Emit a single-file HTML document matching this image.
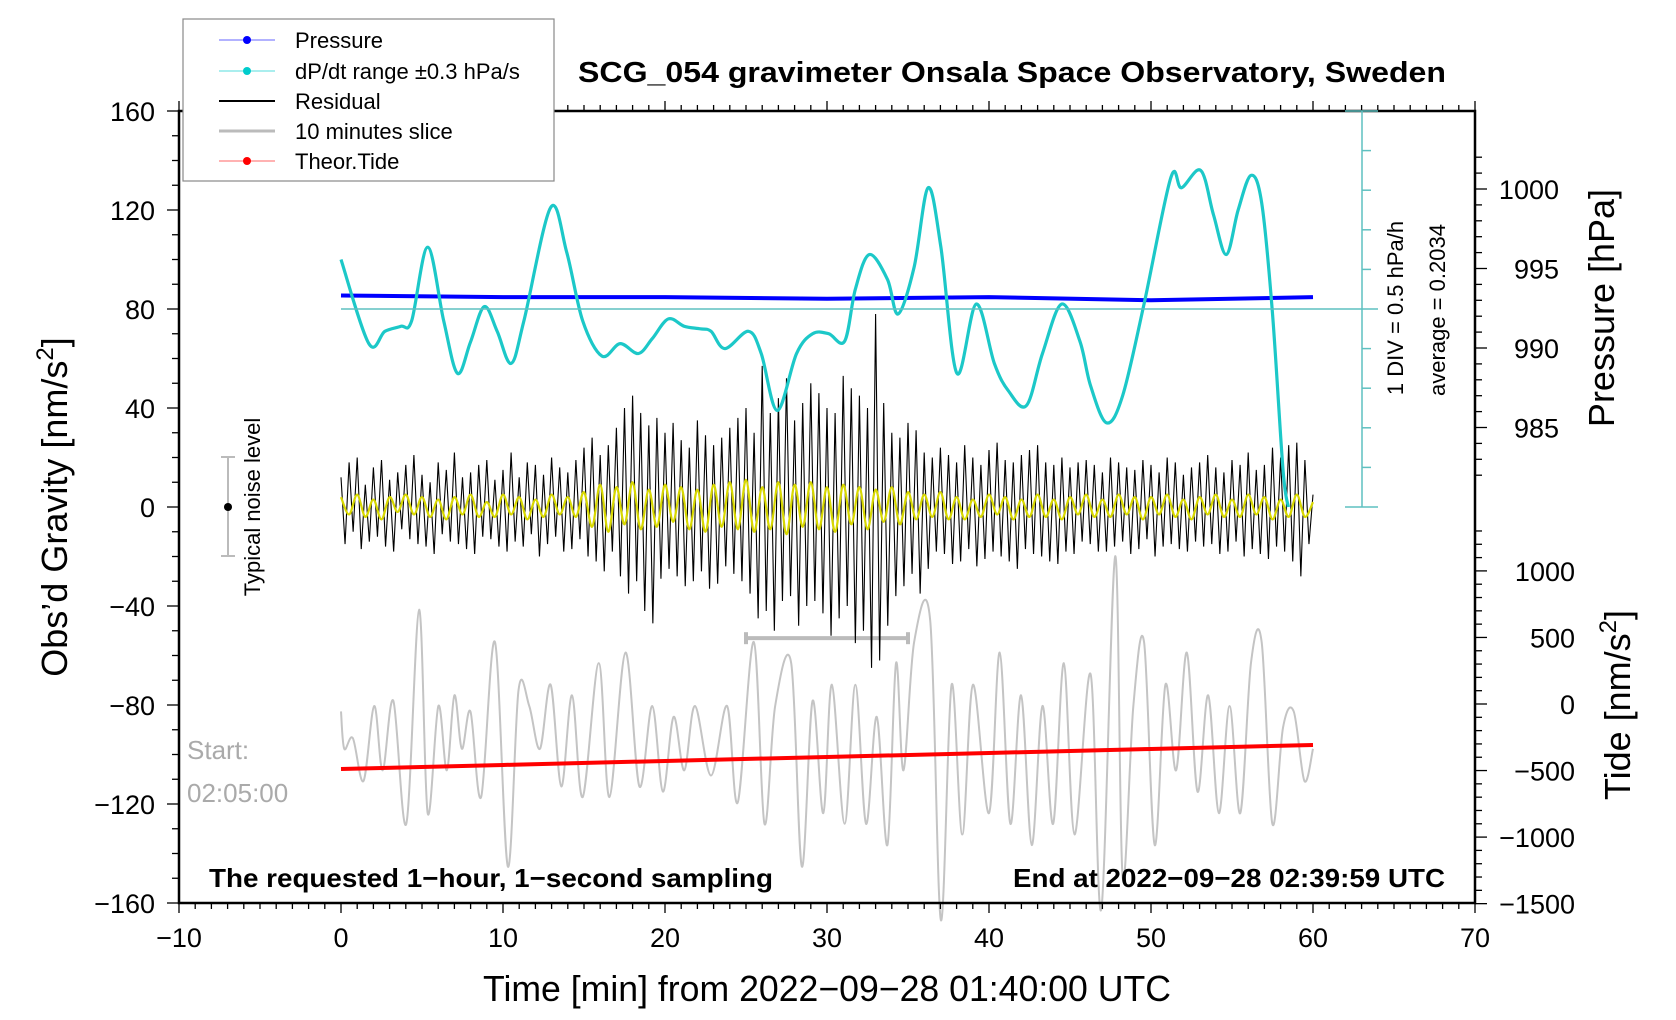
<!DOCTYPE html>
<html><head><meta charset="utf-8">
<style>
html,body{margin:0;padding:0;background:#fff;}
svg{display:block;font-family:"Liberation Sans",Arial,sans-serif;}
</style></head>
<body>
<svg id="chart" width="1676" height="1020" viewBox="0 0 1676 1020" xmlns="http://www.w3.org/2000/svg">
<rect x="0" y="0" width="1676" height="1020" fill="#fff"/>
<g id="plot"></g>
<g id="axes"></g>

<text x="1012" y="82" text-anchor="middle" font-size="29" font-weight="bold" textLength="868" lengthAdjust="spacingAndGlyphs">SCG_054 gravimeter Onsala Space Observatory, Sweden</text>
<text x="827" y="1001" text-anchor="middle" font-size="36" textLength="688" lengthAdjust="spacingAndGlyphs">Time [min] from 2022−09−28 01:40:00 UTC</text>
<text transform="translate(67,507) rotate(-90)" text-anchor="middle" font-size="36">Obs’d Gravity [nm/s<tspan font-size="24" dy="-14">2</tspan><tspan dy="14">]</tspan></text>
<text transform="translate(1614,308) rotate(-90)" text-anchor="middle" font-size="36">Pressure [hPa]</text>
<text transform="translate(1630,705) rotate(-90)" text-anchor="middle" font-size="36">Tide [nm/s<tspan font-size="24" dy="-14">2</tspan><tspan dy="14">]</tspan></text>

<text x="209" y="887" font-size="26" font-weight="bold" textLength="564" lengthAdjust="spacingAndGlyphs">The requested 1−hour, 1−second sampling</text>
<text x="1445" y="887" text-anchor="end" font-size="26" font-weight="bold" textLength="432" lengthAdjust="spacingAndGlyphs">End at 2022−09−28 02:39:59 UTC</text>
<text x="187" y="759" font-size="26" fill="#aaa">Start:</text>
<text x="187" y="802" font-size="26" fill="#aaa">02:05:00</text>

<g>
<line x1="228" y1="457" x2="228" y2="556" stroke="#bbb" stroke-width="2"/>
<line x1="221" y1="457" x2="235" y2="457" stroke="#bbb" stroke-width="2"/>
<line x1="221" y1="556" x2="235" y2="556" stroke="#bbb" stroke-width="2"/>
<circle cx="228" cy="507" r="4" fill="#000"/>
<text transform="translate(260,507) rotate(-90)" text-anchor="middle" font-size="22">Typical noise level</text>
</g>

<g stroke="#5fc0c0" stroke-width="1.5">
<line x1="1362" y1="111" x2="1362" y2="507"/>
<line x1="1345" y1="111" x2="1378" y2="111"/>
<line x1="1345" y1="507" x2="1378" y2="507"/>
<line x1="341" y1="309" x2="1378" y2="309"/>
</g>
<g id="divticks"></g>
<text transform="translate(1403,308) rotate(-90)" text-anchor="middle" font-size="22">1 DIV = 0.5 hPa/h</text>
<text transform="translate(1445,310) rotate(-90)" text-anchor="middle" font-size="22">average = 0.2034</text>

<g>
<rect x="183" y="19" width="371" height="162" fill="#fff" stroke="#888" stroke-width="1.2"/>
<g><line x1="219" y1="40" x2="275" y2="40" stroke="#66f" stroke-width="1"/><circle cx="247" cy="40" r="4" fill="#00f"/><text x="295" y="48" font-size="22">Pressure</text></g>
<g><line x1="219" y1="71" x2="275" y2="71" stroke="#5dd" stroke-width="1"/><circle cx="247" cy="71" r="4" fill="#0cc"/><text x="295" y="79" font-size="22">dP/dt range ±0.3 hPa/s</text></g>
<g><line x1="219" y1="101" x2="275" y2="101" stroke="#000" stroke-width="2"/><text x="295" y="109" font-size="22">Residual</text></g>
<g><line x1="219" y1="131" x2="275" y2="131" stroke="#bbb" stroke-width="3"/><text x="295" y="139" font-size="22">10 minutes slice</text></g>
<g><line x1="219" y1="161" x2="275" y2="161" stroke="#f66" stroke-width="1"/><circle cx="247" cy="161" r="4" fill="#f00"/><text x="295" y="169" font-size="22">Theor.Tide</text></g>
</g>
</svg>
<script>
// ---- data ----
const xTicks = [-10,0,10,20,30,40,50,60,70];
const yTicks = [160,120,80,40,0,-40,-80,-120,-160];
const pTicks = [1000,995,990,985];
const tideTicks = [1000,500,0,-500,-1000,-1500];

const pressureMin = [0,10,20,30,40,50,60];
const pressureVal = [993.3,993.2,993.2,993.1,993.2,993.0,993.2];

const tideMin = [0,10,20,30,40,50,60];
const tideVal = [-488,-458,-428,-398,-368,-338,-308];

const dpdtMin = [0,1.72,2.71,3.70,4.36,5.35,6.34,7.19,7.99,8.84,9.64,10.5,11.29,12.94,13.93,14.92,16.11,17.23,18.35,19.21,20.2,21.19,22.18,22.84,23.7,25.15,25.94,26.93,28.12,29.11,30.1,31.09,31.75,32.61,33.73,34.39,35.38,36.24,37.03,38.02,39.21,40.33,41.19,42.31,43.3,44.49,45.61,46.27,47.26,48.25,49.57,51.22,51.88,53.07,53.86,54.65,55.38,56.17,56.83,57.49,58.15,58.48];
const dpdtVal = [0.828,-0.234,-0.078,-0.015,0.053,0.984,0.053,-0.609,-0.216,0.234,-0.078,-0.484,0.053,1.484,0.922,0.053,-0.391,-0.234,-0.359,-0.172,0.078,-0.015,-0.047,-0.078,-0.297,-0.078,-0.359,-1.078,-0.359,-0.109,-0.109,-0.203,0.453,0.891,0.578,0.141,0.734,1.734,0.984,-0.609,0.266,-0.484,-0.828,-1.016,-0.359,0.266,-0.203,-0.766,-1.234,-0.891,0.266,1.859,1.734,1.953,1.391,0.891,1.453,1.891,1.547,0.172,-1.828,-2.297];
const dpdtAvg = 0.2034;

const residualStep = 0.25;
const residualVal = [12,-15,18,-10,20,-17,9,-14,16,-12,19,-16,11,-18,14,-9,17,-13,21,-15,13,-16,10,-19,18,-11,15,-14,22,-15,12,-17,14,-19,17,-12,19,-13,11,-16,15,-18,22,-14,12,-16,18,-11,17,-20,13,-15,20,-12,16,-18,14,-17,19,-13,24,-20,28,-22,21,-26,25,-18,32,-28,40,-35,45,-30,38,-42,33,-47,36,-29,30,-25,34,-28,27,-32,24,-30,35,-26,29,-33,25,-31,28,-24,32,-27,36,-30,40,-35,30,-45,57,-42,38,-50,44,-38,52,-36,35,-48,42,-40,50,-38,46,-43,40,-52,38,-45,53,-40,48,-55,45,-50,40,-65,78,-62,42,-48,30,-36,28,-32,34,-27,31,-35,22,-25,20,-18,24,-19,21,-23,18,-22,25,-17,20,-24,17,-21,23,-18,26,-20,19,-22,18,-25,21,-17,23,-19,25,-20,18,-22,17,-23,20,-18,16,-19,18,-14,19,-15,17,-18,14,-18,20,-16,18,-14,16,-19,15,-17,19,-13,17,-20,14,-16,20,-15,18,-17,13,-18,16,-14,18,-16,21,-15,16,-19,14,-18,19,-14,17,-20,22,-17,15,-19,17,-21,24,-16,20,-18,25,-22,26,-28,19,-15,5];

const filteredStep = 0.5;
const filteredVal = [4,-3,5,-4,3,-5,4,-2,5,-3,4,-4,3,-5,4,-3,5,-4,2,-4,5,-3,4,-5,3,-4,5,-3,4,-4,6,-8,9,-10,8,-7,10,-9,7,-8,9,-6,8,-9,7,-10,9,-8,10,-9,11,-10,8,-9,10,-11,9,-8,10,-9,8,-10,9,-7,8,-9,7,-6,8,-7,6,-5,5,-4,6,-5,4,-5,3,-4,5,-3,4,-5,3,-4,5,-4,3,-5,4,-3,5,-4,3,-4,5,-3,4,-5,4,-3,5,-4,3,-5,4,-3,5,-4,3,-4,5,-3,4,-5,3,-4,5,-4,2];

const sliceMin = [0,0.2,0.73,1.39,2.05,2.57,3.23,4.03,4.82,5.35,6.01,6.53,7.0,7.46,7.99,8.65,9.5,10.3,10.96,11.62,12.28,12.94,13.6,14.26,14.92,15.91,16.57,17.56,18.42,19.21,19.87,20.53,21.19,21.85,22.84,23.83,24.49,25.48,26.14,26.8,27.79,28.45,29.11,29.77,30.3,31.09,31.75,32.41,33.07,33.73,34.26,34.72,35.38,36.37,37.03,37.69,38.35,39.01,40.0,40.66,41.32,41.98,42.64,43.3,43.96,44.62,45.28,46.27,46.93,47.79,48.25,48.91,49.57,50.23,50.89,51.55,52.21,52.87,53.53,54.19,54.85,55.51,56.17,56.83,57.49,58.15,58.81,59.47,60];
const sliceVal = [-82.6,-97.7,-93.4,-110.7,-80.4,-106.4,-78.3,-128,-41.5,-123.7,-80.4,-106.4,-76.1,-97.7,-82.6,-117.2,-54.5,-145.3,-73.9,-80.4,-97.7,-71.8,-112.9,-76.1,-117.2,-63.1,-117.2,-58.8,-112.9,-80.4,-115,-84.8,-106.4,-80.4,-108.5,-80.4,-119.4,-54.5,-128,-80.4,-63.1,-145.3,-78.3,-123.7,-71.8,-128,-71.8,-128,-84.8,-136.6,-63.1,-106.4,-54.5,-45.8,-166.9,-71.8,-132.3,-71.8,-123.7,-58.8,-128,-76.1,-136.6,-80.4,-128,-63.1,-132.3,-67.5,-162.6,-19.9,-149.6,-80.4,-54.5,-136.6,-71.8,-106.4,-58.8,-115,-76.1,-123.7,-80.4,-123.7,-63.1,-54.5,-128,-89.1,-82.6,-110.7,-97.7];

const sliceBracket = [25,35];
const sliceBracketLevel = -53;

// ---- scales ----
const X0=179, X1=1475, Y0=111, Y1=903;
const xs = m => X0 + (m+10)/80*(X1-X0);
const ys = g => Y0 + (160-g)/320*(Y1-Y0);
const ps = p => 189 + (1000-p)*15.9;
const ts = t => 704 - t*0.1331;
const ds = v => 309 - (v-dpdtAvg)/0.5*39.6;

const NS="http://www.w3.org/2000/svg";
function mk(tag, attrs, parent){const el=document.createElementNS(NS,tag);for(const k in attrs)el.setAttribute(k,attrs[k]);parent.appendChild(el);return el;}
const plot=document.getElementById('plot');
const axes=document.getElementById('axes');

function smoothPath(pts){
  let d="M"+pts[0][0]+","+pts[0][1];
  for(let i=0;i<pts.length-1;i++){
    const p0=pts[Math.max(0,i-1)],p1=pts[i],p2=pts[i+1],p3=pts[Math.min(pts.length-1,i+2)];
    const c1=[p1[0]+(p2[0]-p0[0])/6,p1[1]+(p2[1]-p0[1])/6];
    const c2=[p2[0]-(p3[0]-p1[0])/6,p2[1]-(p3[1]-p1[1])/6];
    d+=" C"+c1[0]+","+c1[1]+" "+c2[0]+","+c2[1]+" "+p2[0]+","+p2[1];
  }
  return d;
}

let e;
// slice (gray)
const sp=sliceMin.map((m,i)=>[xs(m),ys(sliceVal[i])]);
e=mk('path',{d:smoothPath(sp),fill:'none',stroke:'#c4c4c4','stroke-width':2},plot);



// slice bracket
const bg=mk('g',{stroke:'#bbb','stroke-width':4},plot);


mk('line',{x1:xs(sliceBracket[0]),y1:ys(sliceBracketLevel),x2:xs(sliceBracket[1]),y2:ys(sliceBracketLevel)},bg);
mk('line',{x1:xs(sliceBracket[0]),y1:ys(sliceBracketLevel)-6,x2:xs(sliceBracket[0]),y2:ys(sliceBracketLevel)+6},bg);
mk('line',{x1:xs(sliceBracket[1]),y1:ys(sliceBracketLevel)-6,x2:xs(sliceBracket[1]),y2:ys(sliceBracketLevel)+6},bg);

// tide
const tp=tideMin.map((m,i)=>xs(m)+","+ts(tideVal[i])).join(' ');
e=mk('polyline',{points:tp,fill:'none',stroke:'#f00','stroke-width':4},plot);



// residual
const rp=residualVal.map((v,i)=>xs(i*residualStep)+","+ys(v)).join(' ');
e=mk('polyline',{points:rp,fill:'none',stroke:'#000','stroke-width':1.1},plot);



// filtered yellow
const fp=filteredVal.map((v,i)=>[xs(i*filteredStep),ys(v)]);
e=mk('path',{d:smoothPath(fp),fill:'none',stroke:'#d8d800','stroke-width':2.2},plot);



// pressure
const pp=pressureMin.map((m,i)=>xs(m)+","+ps(pressureVal[i])).join(' ');
e=mk('polyline',{points:pp,fill:'none',stroke:'#00f','stroke-width':4},plot);



// dP/dt
const dp=dpdtMin.map((m,i)=>[xs(m),ds(dpdtVal[i])]);
e=mk('path',{d:smoothPath(dp),fill:'none',stroke:'#1cc8c8','stroke-width':3.2},plot);



// frame
e=mk('rect',{x:X0,y:Y0,width:X1-X0,height:Y1-Y0,fill:'none',stroke:'#000','stroke-width':2.5},axes);



// x ticks (bottom & top)
for(let m=-10;m<=70;m++){
  const major=(m%10===0);
  const L=major?10:6;
  mk('line',{x1:xs(m),y1:Y1,x2:xs(m),y2:Y1+L,stroke:'#000','stroke-width':1.3},axes);
  mk('line',{x1:xs(m),y1:Y0,x2:xs(m),y2:Y0-L,stroke:'#000','stroke-width':1.3},axes);
}
xTicks.forEach(t=>{
  const tx=mk('text',{x:xs(t),y:947,'text-anchor':'middle','font-size':27},axes);
  tx.textContent=String(t).replace('-','−');
  
  
});
// y ticks left
for(let g=-160;g<=160;g+=10){
  const major=(g%40===0);
  mk('line',{x1:X0,y1:ys(g),x2:X0-(major?12:7),y2:ys(g),stroke:'#000','stroke-width':1.3},axes);
}
yTicks.forEach(t=>{
  const tx=mk('text',{x:155,y:ys(t)+10,'text-anchor':'end','font-size':27},axes);
  tx.textContent=String(t).replace('-','−');
  
  
});
// pressure axis ticks (right)
for(let p=1002;p>=982;p--){
  const major=(p%5===0);
  mk('line',{x1:X1,y1:ps(p),x2:X1+(major?12:7),y2:ps(p),stroke:'#000','stroke-width':1.3},axes);
}
pTicks.forEach(t=>{
  const tx=mk('text',{x:1559,y:ps(t)+10,'text-anchor':'end','font-size':27},axes);
  tx.textContent=t;
  
  
});
// tide axis ticks
for(let t=1300;t>=-1500;t-=100){
  const major=(t%500===0);
  mk('line',{x1:X1,y1:ts(t),x2:X1+(major?12:7),y2:ts(t),stroke:'#000','stroke-width':1.3},axes);
}
tideTicks.forEach(t=>{
  const tx=mk('text',{x:1575,y:ts(t)+10,'text-anchor':'end','font-size':27},axes);
  tx.textContent=String(t).replace('-','−');
  
  
});
// dP/dt division ticks
const dtg=document.getElementById('divticks');
for(let k=1;k<10;k++){
  if(k===5) continue;
  const y=111+k*39.6;
  mk('line',{x1:1362,y1:y,x2:1371,y2:y,stroke:'#5fc0c0','stroke-width':1.5},dtg);
}
</script>
</body></html>
